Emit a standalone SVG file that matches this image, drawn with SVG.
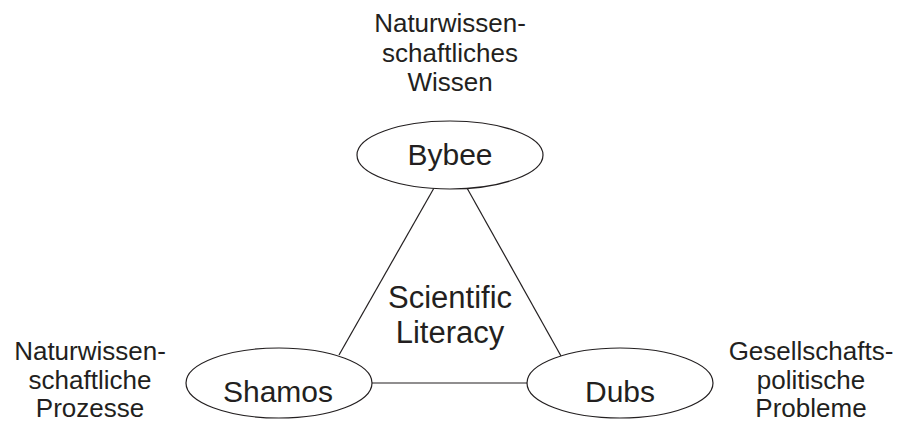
<svg xmlns="http://www.w3.org/2000/svg" width="897" height="423" viewBox="0 0 897 423">
<style>
.node{fill:#fff;stroke:#231f20;stroke-width:1.2}
.conn line{stroke:#231f20;stroke-width:1.2}
.nt{font-family:"Liberation Sans",Arial,sans-serif;font-size:30px;fill:#231f20;text-anchor:middle}
.ct{font-size:31px}
.lab{font-family:"Liberation Sans",Arial,sans-serif;font-size:26px;fill:#231f20;text-anchor:middle}
</style>
<rect width="897" height="423" fill="#fff"/>
<g id="connectors" class="conn">
<line x1="434" y1="188" x2="339" y2="355"/>
<line x1="467" y1="188" x2="561" y2="356"/>
<line x1="372" y1="383" x2="528" y2="383"/>
</g>
<g id="bybee">
<ellipse class="node" cx="450" cy="155" rx="93" ry="34"/>
<text class="nt" x="450" y="165">Bybee</text>
</g>
<g id="shamos">
<ellipse class="node" cx="279" cy="383" rx="93" ry="35"/>
<text class="nt" x="278" y="402">Shamos</text>
</g>
<g id="dubs">
<ellipse class="node" cx="620" cy="383" rx="93" ry="35"/>
<text class="nt" x="620" y="402">Dubs</text>
</g>
<g id="center-label">
<text class="nt ct" x="450" y="308">Scientific</text>
<text class="nt ct" x="450" y="343">Literacy</text>
</g>
<g id="label-top">
<text class="lab" x="450" y="32">Naturwissen-</text>
<text class="lab" x="450" y="62">schaftliches</text>
<text class="lab" x="450" y="91">Wissen</text>
</g>
<g id="label-left">
<text class="lab" x="90" y="360">Naturwissen-</text>
<text class="lab" x="90" y="389">schaftliche</text>
<text class="lab" x="90" y="417">Prozesse</text>
</g>
<g id="label-right">
<text class="lab" x="811" y="360">Gesellschafts-</text>
<text class="lab" x="811" y="389">politische</text>
<text class="lab" x="811" y="417">Probleme</text>
</g>
</svg>
